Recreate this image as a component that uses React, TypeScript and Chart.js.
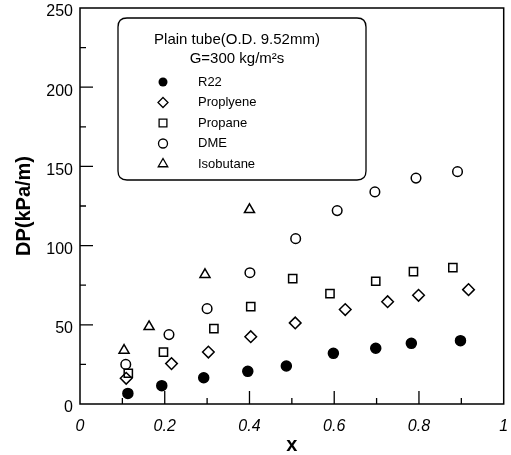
import { useEffect, useRef } from 'react';
import { Chart, registerables } from 'chart.js';

Chart.register(...registerables);

const seriesNames = ['R22', 'Proplyene', 'Propane', 'DME', 'Isobutane'];

const r22X = [0.113, 0.193, 0.292, 0.396, 0.487, 0.598, 0.698, 0.782, 0.898];
const r22Y = [6.7, 11.6, 16.6, 20.6, 24.0, 32.0, 35.2, 38.3, 40.0];

const propyleneX = [0.109, 0.216, 0.303, 0.403, 0.508, 0.626, 0.726, 0.799, 0.917];
const propyleneY = [16.2, 25.5, 32.8, 42.5, 51.2, 59.6, 64.6, 68.6, 72.2];

const propaneX = [0.114, 0.197, 0.316, 0.403, 0.502, 0.59, 0.698, 0.787, 0.88];
const propaneY = [19.4, 32.8, 47.6, 61.5, 79.2, 69.7, 77.5, 83.6, 86.1];

const dmeX = [0.108, 0.21, 0.3, 0.401, 0.509, 0.607, 0.696, 0.793, 0.891];
const dmeY = [25.0, 43.8, 60.2, 82.9, 104.4, 122.1, 133.9, 142.6, 146.7];

const isobutaneX = [0.104, 0.163, 0.295, 0.4];
const isobutaneY = [33.9, 48.8, 81.7, 122.7];

const legendTitle = ['Plain tube(O.D. 9.52mm)', 'G=300 kg/m²s'];

const xMinorTicks = [0.1, 0.3, 0.5, 0.7, 0.9];
const xMajorTicks = [0.2, 0.4, 0.6, 0.8];
const yMinorTicks = [25, 75, 125, 175, 225];
const yMajorTicks = [50, 100, 150, 200];

const FONT = 'Arial, "Liberation Sans", Helvetica, sans-serif';

type Sym = { style: string; fill: boolean; r: number; lr: number };
const symbols: Sym[] = [
  { style: 'circle', fill: true, r: 5, lr: 4.5 },
  { style: 'rectRot', fill: false, r: 5.8, lr: 5 },
  { style: 'rect', fill: false, r: 5.8, lr: 5.5 },
  { style: 'circle', fill: false, r: 4.8, lr: 4.5 },
  { style: 'triangle', fill: false, r: 5.8, lr: 5.5 },
];

function toPoints(xs: number[], ys: number[]) {
  return xs.map((x, i) => ({ x, y: ys[i] }));
}

function drawSymbol(ctx: CanvasRenderingContext2D, s: Sym, x: number, y: number) {
  const r = s.lr;
  ctx.beginPath();
  if (s.style === 'circle') {
    ctx.arc(x, y, r, 0, Math.PI * 2);
  } else if (s.style === 'rectRot') {
    ctx.moveTo(x, y - r);
    ctx.lineTo(x + r, y);
    ctx.lineTo(x, y + r);
    ctx.lineTo(x - r, y);
    ctx.closePath();
  } else if (s.style === 'rect') {
    const h = r * Math.SQRT1_2;
    ctx.rect(x - h, y - h, 2 * h, 2 * h);
  } else if (s.style === 'triangle') {
    ctx.moveTo(x, y - r);
    ctx.lineTo(x + r * Math.sin(Math.PI / 3), y + r * 0.5);
    ctx.lineTo(x - r * Math.sin(Math.PI / 3), y + r * 0.5);
    ctx.closePath();
  }
  if (s.fill) {
    ctx.fillStyle = '#000';
    ctx.fill();
  } else {
    ctx.lineWidth = 1.3;
    ctx.strokeStyle = '#000';
    ctx.stroke();
  }
}

const framePlugin = {
  id: 'frame',
  afterDraw(chart: any) {
    const { ctx, chartArea: a, scales } = chart;
    const xs = scales.x;
    const ys = scales.y;
    ctx.save();
    ctx.strokeStyle = '#000';
    ctx.lineWidth = 1.5;
    ctx.strokeRect(a.left, a.top, a.right - a.left, a.bottom - a.top);
    ctx.lineWidth = 1.3;
    ctx.beginPath();
    for (const v of xMinorTicks) {
      const p = xs.getPixelForValue(v);
      ctx.moveTo(p, a.bottom);
      ctx.lineTo(p, a.bottom - 6);
    }
    for (const v of xMajorTicks) {
      const p = xs.getPixelForValue(v);
      ctx.moveTo(p, a.bottom);
      ctx.lineTo(p, a.bottom - 13);
    }
    for (const v of yMinorTicks) {
      const p = ys.getPixelForValue(v);
      ctx.moveTo(a.left, p);
      ctx.lineTo(a.left + 6, p);
    }
    for (const v of yMajorTicks) {
      const p = ys.getPixelForValue(v);
      ctx.moveTo(a.left, p);
      ctx.lineTo(a.left + 13, p);
    }
    ctx.stroke();

    // legend box
    const bx = a.left + 38;
    const by = a.top + 10;
    const bw = 248;
    const bh = 162;
    const rad = 9;
    ctx.beginPath();
    ctx.moveTo(bx + rad, by);
    ctx.lineTo(bx + bw - rad, by);
    ctx.quadraticCurveTo(bx + bw, by, bx + bw, by + rad);
    ctx.lineTo(bx + bw, by + bh - rad);
    ctx.quadraticCurveTo(bx + bw, by + bh, bx + bw - rad, by + bh);
    ctx.lineTo(bx + rad, by + bh);
    ctx.quadraticCurveTo(bx, by + bh, bx, by + bh - rad);
    ctx.lineTo(bx, by + rad);
    ctx.quadraticCurveTo(bx, by, bx + rad, by);
    ctx.closePath();
    ctx.fillStyle = '#fff';
    ctx.fill();
    ctx.lineWidth = 1.3;
    ctx.strokeStyle = '#000';
    ctx.stroke();

    ctx.fillStyle = '#000';
    ctx.textAlign = 'center';
    ctx.textBaseline = 'middle';
    ctx.font = `15px ${FONT}`;
    ctx.fillText(legendTitle[0], bx + bw / 2 - 5, by + 22);
    ctx.fillText(legendTitle[1], bx + bw / 2 - 5, by + 41);

    ctx.textAlign = 'left';
    ctx.font = `13px ${FONT}`;
    for (let i = 0; i < seriesNames.length; i++) {
      const ry = by + 64 + i * 20.5;
      drawSymbol(ctx, symbols[i], bx + 45, ry);
      ctx.fillStyle = '#000';
      ctx.fillText(seriesNames[i], bx + 80, ry);
    }
    ctx.restore();
  },
};

const allX = [r22X, propyleneX, propaneX, dmeX, isobutaneX];
const allY = [r22Y, propyleneY, propaneY, dmeY, isobutaneY];

export default function App() {
  const ref = useRef<HTMLCanvasElement | null>(null);
  useEffect(() => {
    document.body.style.margin = '0';
    const canvas = ref.current;
    if (!canvas) return;
    const datasets = seriesNames.map((name, i) => ({
      label: name,
      data: toPoints(allX[i], allY[i]),
      pointStyle: symbols[i].style,
      pointRadius: symbols[i].r,
      pointHoverRadius: symbols[i].r,
      pointBorderWidth: 1.5,
      borderColor: '#000',
      backgroundColor: symbols[i].fill ? '#000' : 'rgba(0,0,0,0)',
      showLine: false,
    }));
    const chart = new Chart(canvas, {
      type: 'scatter',
      data: { datasets },
      options: {
        responsive: false,
        animation: false,
        layout: { padding: { top: 8, right: 2, left: 0, bottom: 0 } },
        plugins: { legend: { display: false }, tooltip: { enabled: false } },
        scales: {
          x: {
            type: 'linear',
            min: 0,
            max: 1,
            grid: { display: false, drawTicks: false },
            border: { display: false },
            ticks: {
              stepSize: 0.2,
              padding: 13,
              color: '#000',
              font: { family: FONT, size: 16, style: 'italic' },
              maxRotation: 0,
              callback: (v: any) => String(Math.round(Number(v) * 10) / 10),
            },
            title: {
              display: true,
              text: 'x',
              color: '#000',
              font: { family: FONT, size: 20, weight: 'bold', lineHeight: 1 },
              padding: { top: 0, bottom: 0 },
            },
            afterFit: (s: any) => {
              s.height = 51;
              s.paddingLeft = 0;
              s.paddingRight = 0;
            },
          },
          y: {
            type: 'linear',
            min: 0,
            max: 250,
            grid: { display: false, drawTicks: false },
            border: { display: false },
            ticks: {
              stepSize: 50,
              padding: 7,
              labelOffset: 4,
              color: '#000',
              font: { family: FONT, size: 16 },
            },
            title: {
              display: true,
              text: 'DP(kPa/m)',
              color: '#000',
              font: { family: FONT, size: 20, weight: 'bold' },
              padding: { top: 12, bottom: 0 },
            },
            afterFit: (s: any) => {
              s.width = 80;
              s.paddingTop = 0;
              s.paddingBottom = 0;
            },
          },
        },
      },
      plugins: [framePlugin],
    });
    return () => chart.destroy();
  }, []);
  return <canvas ref={ref} width={511} height={455} />;
}
